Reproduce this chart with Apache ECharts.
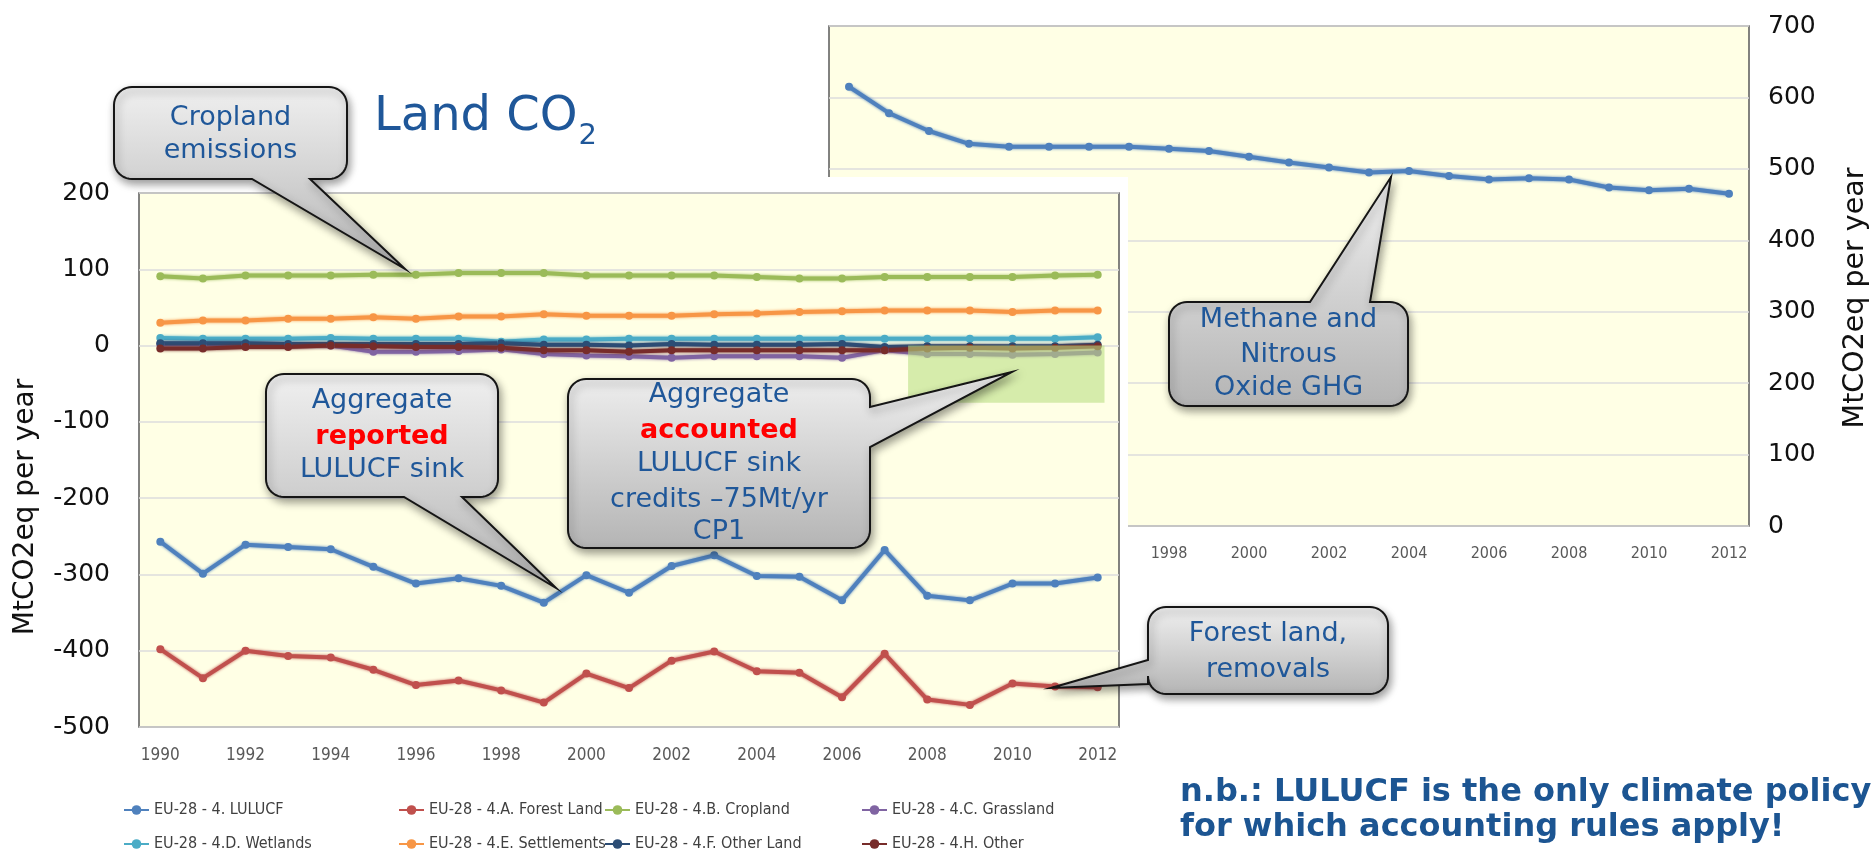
<!DOCTYPE html>
<html>
<head>
<meta charset="utf-8">
<script src="https://cdn.jsdelivr.net/npm/echarts@6/dist/echarts.min.js"></script>
<style>
  html, body { margin: 0; padding: 0; background: #fff; width: 1876px; height: 855px; overflow: hidden; }
  #back, #front { position: absolute; left: 0; top: 0; width: 1876px; height: 855px; }
  #panel { position: absolute; left: 0; top: 177px; width: 1128px; height: 678px; background: #fff; }
</style>
</head>
<body>
<div id="back"></div>
<div id="panel"></div>
<div id="front"></div>
<script>
// ---- data -------------------------------------------------------------
const years = ['1990','1991','1992','1993','1994','1995','1996','1997','1998','1999','2000',
               '2001','2002','2003','2004','2005','2006','2007','2008','2009','2010','2011','2012'];

// Methane and nitrous oxide, MtCO2eq per year
const methaneN2O = [615, 578, 553, 535, 531, 531, 531, 531, 528, 525, 517, 509,
                    502, 495, 497, 490, 485, 487, 485, 474, 470, 472, 465];

// Land CO2 categories, MtCO2eq per year
const seriesNames = ['EU-28 - 4. LULUCF', 'EU-28 - 4.A. Forest Land', 'EU-28 - 4.B. Cropland',
                     'EU-28 - 4.C. Grassland', 'EU-28 - 4.D. Wetlands', 'EU-28 - 4.E. Settlements',
                     'EU-28 - 4.F. Other Land', 'EU-28 - 4.H. Other'];
const lulucf      = [-257, -299, -261, -264, -267, -290, -312, -305, -315, -337, -301, -324,
                     -289, -275, -302, -303, -334, -268, -328, -334, -312, -312, -304];
const forestLand  = [-398, -436, -400, -407, -409, -425, -445, -439, -452, -468, -430, -449,
                     -413, -401, -427, -429, -461, -404, -464, -471, -443, -447, -448];
const cropland    = [91, 88, 92, 92, 92, 93, 93, 95, 95, 95, 92, 92, 92, 92, 90, 88, 88, 90, 90, 90, 90, 92, 93];
const grassland   = [2, 2, 2, 1, 0, -8, -8, -7, -5, -11, -13, -14, -16, -14, -14, -14, -16, -6, -11, -11, -12, -11, -9];
const wetlands    = [10, 9, 9, 9, 10, 9, 9, 9, 5, 8, 8, 9, 9, 9, 9, 9, 9, 9, 9, 9, 9, 9, 11];
const settlements = [30, 33, 33, 35, 35, 37, 35, 38, 38, 41, 39, 39, 39, 41, 42, 44, 45, 46, 46, 46, 44, 46, 46];
const otherLand   = [3, 3, 3, 2, 2, 2, 2, 2, 3, 1, 1, 0, 2, 1, 1, 1, 2, -2, -1, -1, -1, -1, 1];
const otherCat    = [-4, -4, -2, -2, 0, -1, -2, -2, -3, -6, -6, -8, -6, -6, -6, -6, -6, -6, -4, -3, -4, -3, -1];
const landSeries  = [lulucf, forestLand, cropland, grassland, wetlands, settlements, otherLand, otherCat];

// accounted sink credit band (CP1)
const creditYears = ['2008', '2012'];
const creditRange = [0, -75];

// axis ticks
const backTicks  = { min: 0, max: 700, step: 100 };
const frontTicks = { min: -500, max: 200, step: 100 };

// ---- styling ----------------------------------------------------------
const SANS   = '"DejaVu Sans", Verdana, sans-serif';
const NARROW = '"Liberation Sans Narrow", "Arial Narrow", "DejaVu Sans Condensed", "Liberation Sans", sans-serif';
const BLUE_TXT = '#1F5799';
const colors = ['#4F81BD', '#C0504D', '#9BBB59', '#8064A2', '#4BACC6', '#F79646', '#2C4D75', '#772C2A'];
const PLOT_BG = '#FFFFE5';

function lineSeries(name, data, color) {
  return {
    name, type: 'line', data, color,
    symbol: 'circle', symbolSize: 8, showAllSymbol: true,
    lineStyle: { width: 4, color, shadowBlur: 3, shadowColor: color },
    itemStyle: { color },
    emphasis: { disabled: true }
  };
}

// ---- back chart: methane and N2O ---------------------------------------
const back = echarts.init(document.getElementById('back'), null, { renderer: 'canvas' });
back.setOption({
  animation: false,
  grid: { left: 829, right: 127, top: 26, bottom: 329, show: true,
          backgroundColor: PLOT_BG, borderColor: '#5a5a5a', borderWidth: 1.5 },
  xAxis: {
    type: 'category', data: years, boundaryGap: true,
    axisTick: { show: false }, axisLine: { show: false },
    axisLabel: { interval: 1, margin: 20, color: '#595959', fontSize: 16, fontFamily: NARROW }
  },
  yAxis: {
    type: 'value', position: 'right', min: backTicks.min, max: backTicks.max, interval: backTicks.step,
    axisLine: { show: false }, axisTick: { show: false },
    axisLabel: { margin: 19, color: '#111', fontSize: 25, fontFamily: SANS },
    splitLine: { lineStyle: { color: '#dcdcdc', width: 1.5 } }
  },
  series: [lineSeries('Methane and Nitrous Oxide', methaneN2O, colors[0])],
  graphic: [{
    type: 'text', x: 1856, y: 298, rotation: Math.PI / 2,
    style: { text: 'MtCO2eq per year', font: '28.5px ' + SANS, fill: '#111', align: 'center', verticalAlign: 'middle' }
  }]
});

// ---- front chart: land CO2 --------------------------------------------
const front = echarts.init(document.getElementById('front'), null, { renderer: 'canvas' });
const legendLefts = [123, 398, 604, 861];
const legendTops = [800, 834];
front.setOption({
  animation: false,
  grid: { left: 139, right: 757, top: 193, bottom: 128, show: true,
          backgroundColor: PLOT_BG, borderColor: '#5a5a5a', borderWidth: 1.5 },
  xAxis: {
    type: 'category', data: years, boundaryGap: true,
    axisTick: { show: false }, axisLine: { show: false },
    axisLabel: { interval: 1, margin: 20, color: '#595959', fontSize: 17, fontFamily: NARROW }
  },
  yAxis: {
    type: 'value', min: frontTicks.min, max: frontTicks.max, interval: frontTicks.step,
    axisLine: { show: false }, axisTick: { show: false },
    axisLabel: { margin: 29, color: '#111', fontSize: 25, fontFamily: SANS },
    splitLine: { lineStyle: { color: '#dcdcdc', width: 1.5 } }
  },
  legend: seriesNames.map((name, i) => ({
    left: legendLefts[i % 4], top: legendTops[Math.floor(i / 4)], selectedMode: false,
    itemWidth: 25, itemHeight: 12, padding: 0,
    data: [name],
    textStyle: { color: '#404040', fontSize: 16, lineHeight: 20, fontFamily: NARROW }
  })),
  series: landSeries.map((d, i) => lineSeries(seriesNames[i], d, colors[i]))
});

// ---- annotations ------------------------------------------------------
function arc(pts, cx, cy, r, a0, a1) {
  const n = 10;
  for (let k = 0; k <= n; k++) {
    const a = a0 + (a1 - a0) * k / n;
    pts.push([cx + r * Math.cos(a), cy + r * Math.sin(a)]);
  }
}
function calloutPoints(b, side, a1, a2, tip, r) {
  const x = b.x, y = b.y, R = b.x + b.w, B = b.y + b.h, P = Math.PI;
  const pts = [];
  arc(pts, x + r, y + r, r, P, 1.5 * P);
  if (side === 'top') pts.push([a1, y], tip, [a2, y]);
  arc(pts, R - r, y + r, r, 1.5 * P, 2 * P);
  if (side === 'right') pts.push([R, a1], tip, [R, a2]);
  arc(pts, R - r, B - r, r, 0, 0.5 * P);
  if (side === 'bottom') pts.push([a2, B], tip, [a1, B]);
  arc(pts, x + r, B - r, r, 0.5 * P, P);
  if (side === 'left') pts.push([x, a2], tip, [x, a1]);
  return pts;
}

function callout(c) {
  const els = [{
    type: 'polygon', z: 100, silent: true,
    shape: { points: calloutPoints(c.box, c.side, c.a1, c.a2, c.tip, 18) },
    style: {
      fill: new echarts.graphic.LinearGradient(0, 0, 0, 1, [
        { offset: 0, color: '#F0F0F0' }, { offset: 1, color: '#B4B4B4' }]),
      stroke: '#151515', lineWidth: 2,
      shadowBlur: 8, shadowOffsetX: 2, shadowOffsetY: 4, shadowColor: 'rgba(0,0,0,0.4)'
    }
  }];
  const cx = c.box.x + c.box.w / 2;
  c.lines.forEach(l => {
    els.push({
      type: 'text', z: 101, silent: true, x: cx, y: l.y,
      style: { text: l.t, font: (l.bold ? 'bold ' : '') + '27px ' + SANS,
               fill: l.color || BLUE_TXT, align: 'center', verticalAlign: 'middle' }
    });
  });
  return els;
}

const callouts = [
  { box: { x: 114, y: 87, w: 233, h: 92 }, side: 'bottom', a1: 252, a2: 310, tip: [405, 269],
    lines: [{ t: 'Cropland', y: 118 }, { t: 'emissions', y: 151 }] },
  { box: { x: 266, y: 374, w: 232, h: 123 }, side: 'bottom', a1: 404, a2: 462, tip: [556, 588],
    lines: [{ t: 'Aggregate', y: 401 }, { t: 'reported', y: 437, bold: true, color: '#FF0000' },
            { t: 'LULUCF sink', y: 470 }] },
  { box: { x: 568, y: 379, w: 302, h: 169 }, side: 'right', a1: 407, a2: 447, tip: [1012, 372],
    lines: [{ t: 'Aggregate', y: 395 }, { t: 'accounted', y: 431, bold: true, color: '#FF0000' },
            { t: 'LULUCF sink', y: 464 }, { t: 'credits \u201375Mt/yr', y: 500 }, { t: 'CP1', y: 532 }] },
  { box: { x: 1169, y: 302, w: 239, h: 104 }, side: 'top', a1: 1310, a2: 1370, tip: [1391, 177],
    lines: [{ t: 'Methane and', y: 320 }, { t: 'Nitrous', y: 355 }, { t: 'Oxide GHG', y: 388 }] },
  { box: { x: 1148, y: 607, w: 240, h: 87 }, side: 'left', a1: 660, a2: 684, tip: [1051, 688],
    lines: [{ t: 'Forest land,', y: 634 }, { t: 'removals', y: 670 }] }
];

// credit band placed on the front chart's scales
const iA = years.indexOf(creditYears[0]);
const pA = front.convertToPixel({ gridIndex: 0 }, [iA, creditRange[0]]);
const pA2 = front.convertToPixel({ gridIndex: 0 }, [iA + 1, creditRange[0]]);
const pB = front.convertToPixel({ gridIndex: 0 }, [years.indexOf(creditYears[1]), creditRange[1]]);
const band = pA2[0] - pA[0];
const bandLeft = pA[0] - 0.45 * band, bandRight = pB[0] + 0.16 * band;
const creditRect = {
  type: 'rect', z: 50, silent: true,
  shape: { x: bandLeft, y: pA[1], width: bandRight - bandLeft, height: pB[1] - pA[1] },
  style: { fill: 'rgba(185,222,130,0.58)' }
};

// title with subscript
const ctx = document.createElement('canvas').getContext('2d');
const titleFont = '48px ' + SANS;
ctx.font = titleFont;
const titleX = 374;
const titleW = ctx.measureText('Land CO').width;

const graphics = [creditRect];
callouts.forEach(c => graphics.push(...callout(c)));
graphics.push(
  { type: 'text', x: titleX, y: 118, z: 101,
    style: { text: 'Land CO', font: titleFont, fill: BLUE_TXT, align: 'left', verticalAlign: 'middle' } },
  { type: 'text', x: titleX + titleW + 1, y: 136, z: 101,
    style: { text: '2', font: '29px ' + SANS, fill: BLUE_TXT, align: 'left', verticalAlign: 'middle' } },
  { type: 'text', x: 26, y: 507, rotation: Math.PI / 2, z: 101,
    style: { text: 'MtCO2eq per year', font: '28px ' + SANS, fill: '#111', align: 'center', verticalAlign: 'middle' } },
  { type: 'text', x: 1180, y: 793, z: 101,
    style: { text: 'n.b.: LULUCF is the only climate policy', font: 'bold 32px ' + SANS, fill: '#1C5592',
             align: 'left', verticalAlign: 'middle' } },
  { type: 'text', x: 1180, y: 828, z: 101,
    style: { text: 'for which accounting rules apply!', font: 'bold 32px ' + SANS, fill: '#1C5592',
             align: 'left', verticalAlign: 'middle' } }
);
front.setOption({ graphic: graphics });
</script>
</body>
</html>
